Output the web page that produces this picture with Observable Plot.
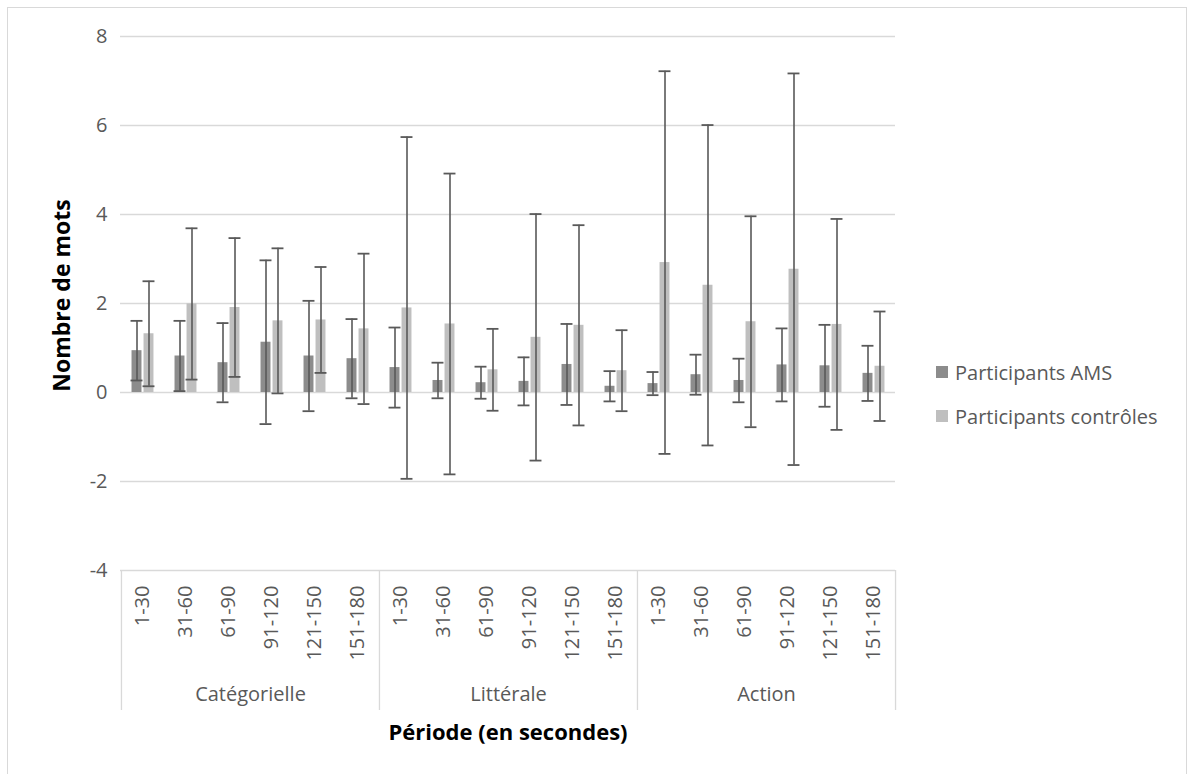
<!DOCTYPE html>
<html>
<head>
<meta charset="utf-8">
<script src="https://cdn.jsdelivr.net/npm/d3@7"></script>
<script src="https://cdn.jsdelivr.net/npm/@observablehq/plot@0.6"></script>
<style>
  html, body { margin: 0; padding: 0; background: #fff; }
  #wrap { position: relative; width: 1191px; height: 774px; overflow: hidden; font-family: "Open Sans", sans-serif; }
  #wrap svg { position: absolute; left: 0; top: 0; }
  #border { position: absolute; left: 7px; top: 7px; width: 1178px; height: 800px; border: 1px solid #d9d9d9; pointer-events: none; }
  .leg { position: absolute; left: 936px; display: flex; align-items: center; font-size: 20px; color: #595959; white-space: nowrap; }
  .leg span.sw { display: inline-block; width: 12px; height: 12px; margin-right: 7px; }
</style>
</head>
<body>
<div id="wrap"><div id="border"></div></div>
<script>
// ---- data ----
const tasks = ["Catégorielle", "Littérale", "Action"];
const periods = ["1-30", "31-60", "61-90", "91-120", "121-150", "151-180"];
const seriesNames = ["Participants AMS", "Participants contrôles"];
const seriesColors = ["#8c8c8c", "#bfbfbf"];
const amsMean = [0.94, 0.82, 0.67, 1.13, 0.82, 0.76,  0.56, 0.27, 0.22, 0.25, 0.63, 0.14,  0.20, 0.40, 0.27, 0.62, 0.60, 0.43];
const amsSD   = [0.67, 0.79, 0.89, 1.84, 1.24, 0.89,  0.90, 0.40, 0.36, 0.54, 0.91, 0.34,  0.26, 0.45, 0.49, 0.82, 0.92, 0.62];
const ctrlMean = [1.32, 1.99, 1.91, 1.61, 1.63, 1.43,  1.90, 1.54, 0.51, 1.24, 1.51, 0.49,  2.92, 2.41, 1.59, 2.77, 1.53, 0.59];
const ctrlSD   = [1.18, 1.70, 1.56, 1.63, 1.19, 1.69,  3.84, 3.38, 0.92, 2.77, 2.25, 0.91,  4.30, 3.60, 2.37, 4.40, 2.37, 1.23];
const yTicks = [-4, -2, 0, 2, 4, 6, 8];
const yLabel = "Nombre de mots";
const xLabel = "Période (en secondes)";

// ---- table ----
const rows = [];
tasks.forEach((t, ti) => periods.forEach((p, pi) => {
  const i = ti * periods.length + pi;
  rows.push({key: t + "|" + p, task: t, period: p,
    ams: amsMean[i], amsSD: amsSD[i], ctrl: ctrlMean[i], ctrlSD: ctrlSD[i]});
}));
const keys = rows.map(d => d.key);
const groupInfo = tasks.map(t => {
  const ks = rows.filter(d => d.task === t).map(d => d.key);
  return {task: t, first: ks[0], mid: ks[Math.floor(ks.length / 2) - 1], last: ks[ks.length - 1]};
});

const W = 1191, H = 774, mL = 120, mR = 296, mT = 36, mB = 204;
const bw = (W - mL - mR) / keys.length;
const half = bw / 2;
const grey = "#595959";

const chart = Plot.plot({
  width: W, height: H,
  marginLeft: mL, marginRight: mR, marginTop: mT, marginBottom: mB,
  style: {fontFamily: "Open Sans, sans-serif", background: "transparent"},
  x: {type: "band", domain: keys, padding: 0, axis: null},
  y: {domain: [-4, 8], axis: null},
  marks: [
    Plot.ruleY(yTicks, {stroke: "#d9d9d9", strokeWidth: 1.3}),
    Plot.axisY({ticks: yTicks, tickSize: 0, tickPadding: 13, fontSize: 20, color: grey, label: null, tickFormat: d => d < 0 ? "-" + Math.abs(d) : String(d)}),
    // bars
    Plot.barY(rows, {x: "key", y: "ams", fill: seriesColors[0], insetLeft: half - 11, insetRight: half + 1}),
    Plot.barY(rows, {x: "key", y: "ctrl", fill: seriesColors[1], insetLeft: half + 1, insetRight: half - 11}),
    // error bars
    Plot.ruleX(rows, {x: "key", y1: d => d.ams - d.amsSD, y2: d => d.ams + d.amsSD, dx: -6, stroke: grey, strokeWidth: 1.6}),
    Plot.ruleX(rows, {x: "key", y1: d => d.ctrl - d.ctrlSD, y2: d => d.ctrl + d.ctrlSD, dx: 6, stroke: grey, strokeWidth: 1.6}),
    Plot.tickY(rows, {x: "key", y: d => d.ams + d.amsSD, stroke: grey, strokeWidth: 1.8, insetLeft: half - 12, insetRight: half}),
    Plot.tickY(rows, {x: "key", y: d => d.ams - d.amsSD, stroke: grey, strokeWidth: 1.8, insetLeft: half - 12, insetRight: half}),
    Plot.tickY(rows, {x: "key", y: d => d.ctrl + d.ctrlSD, stroke: grey, strokeWidth: 1.8, insetLeft: half, insetRight: half - 12}),
    Plot.tickY(rows, {x: "key", y: d => d.ctrl - d.ctrlSD, stroke: grey, strokeWidth: 1.8, insetLeft: half, insetRight: half - 12}),
    // category axis: period labels
    Plot.text(rows, {x: "key", text: "period", frameAnchor: "bottom", rotate: -90, textAnchor: "end", lineAnchor: "middle", dy: 15, fontSize: 20, fill: grey}),
    // group dividers
    Plot.ruleX(groupInfo, {x: "first", y1: -4, y2: -4, dx: -half, insetBottom: -140, stroke: "#d9d9d9", strokeWidth: 1.3}),
    Plot.ruleX(groupInfo.slice(-1), {x: "last", y1: -4, y2: -4, dx: half, insetBottom: -140, stroke: "#d9d9d9", strokeWidth: 1.3}),
    // group labels
    Plot.text(groupInfo, {x: "mid", text: "task", frameAnchor: "bottom", dx: half, dy: 124, textAnchor: "middle", lineAnchor: "middle", fontSize: 20, fill: grey}),
    // axis titles
    Plot.text([xLabel], {frameAnchor: "bottom", dy: 162, textAnchor: "middle", lineAnchor: "middle", fontSize: 22, fontWeight: "bold", fill: "#000"}),
    Plot.text([yLabel], {frameAnchor: "left", dx: -58, dy: -8, rotate: -90, textAnchor: "middle", lineAnchor: "middle", fontSize: 23, fontWeight: "bold", fill: "#000"})
  ]
});

const wrap = document.getElementById("wrap");
wrap.insertBefore(chart, wrap.firstChild);

// legend
const legTops = [372, 416];
seriesNames.forEach((name, i) => {
  const div = document.createElement("div");
  div.className = "leg";
  div.style.top = (legTops[i] - 15) + "px";
  div.style.height = "30px";
  const sw = document.createElement("span");
  sw.className = "sw";
  sw.style.background = seriesColors[i];
  div.appendChild(sw);
  div.appendChild(document.createTextNode(name));
  wrap.appendChild(div);
});
</script>
</body>
</html>
